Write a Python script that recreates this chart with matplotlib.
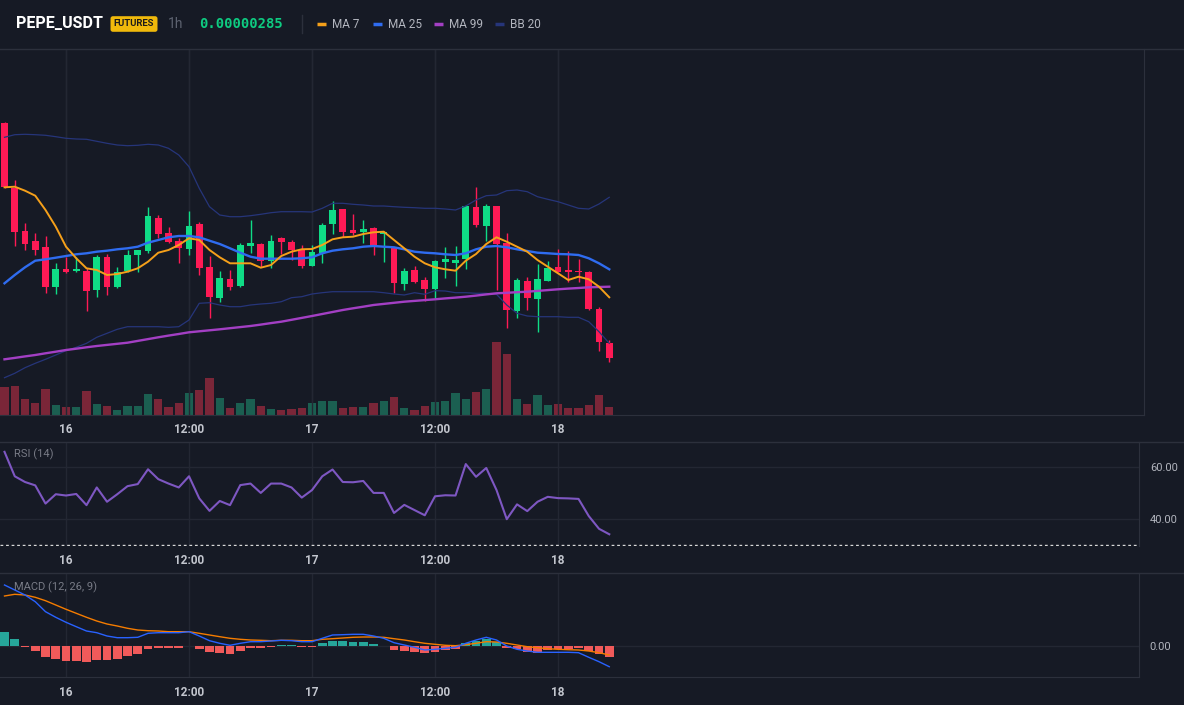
import numpy as np
import pandas as pd
import matplotlib
matplotlib.use("Agg")
import matplotlib.pyplot as plt
from matplotlib.lines import Line2D

plt.rcParams['font.family'] = ['Roboto', 'DejaVu Sans']

symbol = "PEPE_USDT"
market = "FUTURES"
interval = "1h"
last_price = "0.00000285"
times = pd.date_range("2024-05-15 18:00", periods=60, freq="h")

# prices in units of 1e-8 USDT
opens = [308.53, 301.97, 297.70, 296.70, 296.13, 292.13, 293.90, 293.70, 293.70, 291.80,
         295.13, 292.13, 293.70, 295.30, 295.70, 299.03, 297.53, 296.70, 295.87, 298.40,
         294.07, 291.03, 292.90, 292.23, 296.23, 296.40, 294.73, 296.97, 296.57, 295.80,
         294.23, 295.53, 298.40, 299.90, 297.80, 297.63, 298.03, 297.45, 295.97, 292.40,
         293.80, 292.80, 291.90, 294.60, 294.47, 294.87, 300.13, 298.23, 300.23, 296.47,
         289.73, 292.70, 290.90, 292.73, 294.13, 293.80, 293.73, 293.57, 289.90, 286.53]
highs = [308.65, 302.80, 298.47, 297.50, 297.20, 294.47, 295.13, 295.13, 293.97, 295.30,
         295.40, 294.13, 295.80, 295.85, 300.07, 299.30, 298.13, 296.97, 299.70, 298.57,
         295.20, 293.70, 293.80, 296.47, 298.80, 296.53, 297.30, 297.13, 296.80, 296.30,
         296.30, 298.53, 300.73, 299.90, 299.40, 298.80, 298.13, 297.63, 295.97, 293.97,
         294.20, 293.07, 294.80, 296.13, 296.20, 300.30, 302.07, 300.37, 300.23, 297.47,
         292.97, 293.13, 294.40, 294.70, 295.87, 295.70, 294.90, 293.70, 290.13, 286.80]
lows = [302.00, 296.20, 295.80, 295.30, 291.47, 291.37, 293.47, 293.63, 289.70, 291.13,
        291.30, 292.03, 293.60, 293.63, 295.47, 296.97, 296.53, 294.53, 295.30, 293.30,
        288.97, 290.63, 291.80, 292.13, 295.47, 294.13, 293.97, 295.40, 294.80, 293.97,
        294.23, 294.47, 297.40, 297.13, 297.30, 296.47, 295.30, 294.63, 291.47, 291.80,
        292.47, 290.73, 291.03, 293.03, 292.23, 293.87, 298.13, 296.73, 291.80, 287.97,
        288.97, 289.80, 287.63, 292.73, 293.57, 292.63, 292.63, 289.80, 285.73, 284.63]
closes = [302.10, 297.63, 296.40, 295.80, 292.13, 293.90, 293.60, 293.90, 291.73, 295.13,
          292.13, 293.57, 295.30, 295.80, 299.20, 297.40, 296.63, 295.97, 298.20, 293.97,
          291.13, 293.03, 292.13, 296.30, 296.53, 294.73, 296.70, 296.63, 295.80, 294.23,
          295.57, 298.30, 299.80, 297.57, 297.53, 297.90, 296.20, 297.53, 292.53, 293.70,
          292.63, 291.90, 294.70, 294.90, 294.80, 300.23, 298.30, 300.23, 296.40, 289.80,
          292.80, 291.03, 292.90, 294.03, 293.57, 293.63, 293.63, 289.87, 286.63, 284.97]
volumes = [283, 290, 160, 117, 260, 100, 83, 83, 240, 110, 90, 50, 90, 90, 210, 160, 83, 123,
           217, 250, 373, 167, 73, 117, 160, 90, 60, 50, 60, 67, 117, 140, 140, 67, 83, 83,
           117, 140, 183, 67, 50, 93, 127, 140, 223, 160, 233, 257, 733, 610, 160, 110, 200,
           100, 110, 73, 73, 100, 200, 83]

ma7 = [302.07, 302.13, 301.73, 301.23, 299.80, 298.13, 296.13, 294.97, 293.97, 293.80,
       293.30, 293.40, 293.63, 293.97, 294.63, 295.53, 295.80, 296.30, 296.97, 296.80,
       295.80, 295.07, 294.47, 294.47, 294.47, 294.03, 294.30, 295.20, 295.63, 295.87,
       295.90, 296.30, 296.87, 297.07, 297.13, 297.40, 297.57, 297.63, 296.80, 295.97,
       295.13, 294.47, 294.07, 293.87, 293.73, 294.73, 295.40, 296.40, 297.07, 296.63,
       296.13, 295.63, 294.80, 294.13, 293.47, 292.80, 293.13, 292.87, 292.13, 291.07]
ma25 = [292.47, 293.30, 294.07, 294.73, 294.87, 295.03, 295.20, 295.37, 295.47, 295.63,
        295.73, 295.87, 295.97, 296.13, 296.53, 296.80, 297.07, 297.20, 297.20, 297.07,
        296.73, 296.40, 295.97, 295.53, 295.13, 294.93, 294.93, 294.93, 294.93, 294.97,
        295.07, 295.47, 295.73, 295.87, 295.97, 296.13, 296.20, 296.13, 296.07, 295.87,
        295.63, 295.53, 295.47, 295.37, 295.30, 295.47, 295.87, 296.13, 296.20, 296.07,
        295.87, 295.70, 295.53, 295.47, 295.40, 295.37, 295.30, 294.97, 294.47, 293.87]
ma99 = [284.87, 285.01, 285.16, 285.30, 285.47, 285.63, 285.80, 285.93, 286.07, 286.20,
        286.31, 286.42, 286.53, 286.71, 286.89, 287.07, 287.24, 287.40, 287.57, 287.67,
        287.77, 287.87, 287.98, 288.09, 288.20, 288.34, 288.49, 288.63, 288.82, 289.01,
        289.20, 289.40, 289.60, 289.80, 289.97, 290.13, 290.30, 290.41, 290.52, 290.63,
        290.71, 290.79, 290.87, 290.96, 291.04, 291.13, 291.24, 291.36, 291.47, 291.52,
        291.58, 291.63, 291.71, 291.79, 291.87, 291.94, 292.00, 292.07, 292.10, 292.13]
bb_upper = [307.07, 307.33, 307.37, 307.33, 307.27, 307.13, 306.97, 306.90, 306.87, 306.67,
            306.47, 306.30, 306.23, 306.27, 306.37, 306.30, 305.97, 305.30, 304.13, 301.97,
            300.13, 299.30, 299.13, 299.13, 299.23, 299.37, 299.53, 299.63, 299.63, 299.63,
            299.60, 299.97, 300.47, 300.47, 300.37, 300.30, 300.20, 300.20, 300.13, 300.07,
            300.03, 299.97, 299.97, 299.90, 299.80, 300.20, 300.80, 301.23, 301.30, 301.73,
            301.80, 301.63, 301.13, 300.87, 300.63, 300.30, 299.97, 299.90, 300.40, 301.07]
bb_lower = [283.03, 283.47, 284.03, 284.47, 284.87, 285.30, 285.73, 286.07, 286.47, 287.07,
            287.47, 287.87, 288.13, 288.13, 288.13, 288.13, 288.07, 288.13, 288.80, 290.47,
            290.53, 290.30, 290.13, 290.13, 290.30, 290.40, 290.47, 290.63, 291.03, 291.13,
            291.40, 291.53, 291.63, 291.63, 291.63, 291.63, 291.63, 291.53, 291.40, 291.30,
            291.53, 291.37, 291.73, 291.70, 291.53, 291.53, 291.47, 291.47, 291.37, 290.30,
            289.47, 289.20, 289.13, 289.13, 289.13, 289.07, 289.07, 288.63, 287.63, 286.47]

rsi = [65.9, 56.5, 54.3, 53.0, 46.0, 49.6, 49.1, 49.7, 45.4, 52.2, 46.7, 49.6, 52.7, 53.5,
       59.2, 55.4, 53.7, 52.2, 56.5, 48.0, 43.2, 47.0, 45.4, 53.1, 53.7, 50.1, 53.7, 53.7,
       52.2, 48.3, 51.2, 56.5, 59.1, 54.3, 54.2, 54.7, 50.1, 50.1, 42.4, 45.5, 43.5, 41.5,
       48.8, 49.2, 49.1, 61.2, 56.3, 59.7, 51.2, 40.0, 45.7, 43.1, 46.7, 48.6, 48.1, 48.0,
       47.8, 41.2, 36.3, 34.2]

# MACD in units of 1e-10
macd_dif = [6.07, 5.57, 5.07, 4.40, 3.40, 2.84, 2.34, 1.90, 1.47, 1.30, 0.97, 0.80, 0.80,
            0.84, 1.24, 1.30, 1.30, 1.30, 1.40, 0.97, 0.50, 0.24, 0.04, 0.24, 0.40, 0.40,
            0.47, 0.54, 0.50, 0.40, 0.40, 0.74, 1.07, 1.10, 1.14, 1.14, 0.97, 0.74, 0.30,
            0.07, -0.16, -0.43, -0.36, -0.26, -0.16, 0.24, 0.57, 0.84, 0.57, -0.03, -0.36,
            -0.53, -0.66, -0.66, -0.66, -0.66, -0.70, -1.16, -1.60, -2.10]
macd_dea = [4.97, 5.14, 5.07, 4.84, 4.50, 4.07, 3.64, 3.24, 2.84, 2.47, 2.17, 1.97, 1.74,
            1.57, 1.50, 1.47, 1.40, 1.40, 1.40, 1.24, 1.07, 0.90, 0.74, 0.64, 0.57, 0.54,
            0.50, 0.54, 0.54, 0.50, 0.50, 0.64, 0.70, 0.77, 0.84, 0.87, 0.87, 0.84, 0.70,
            0.57, 0.40, 0.24, 0.14, 0.04, 0.00, 0.10, 0.24, 0.40, 0.37, 0.24, 0.07, -0.10,
            -0.20, -0.30, -0.36, -0.40, -0.43, -0.53, -0.70, -0.93]
macd_hist = [1.40, 0.67, -0.17, -0.50, -1.10, -1.37, -1.50, -1.50, -1.60, -1.43, -1.43,
             -1.33, -1.03, -0.83, -0.33, -0.27, -0.27, -0.27, -0.07, -0.33, -0.60, -0.70,
             -0.83, -0.50, -0.27, -0.27, -0.17, 0.07, 0.05, -0.17, -0.17, 0.30, 0.50, 0.50,
             0.37, 0.37, 0.17, -0.03, -0.43, -0.50, -0.60, -0.77, -0.60, -0.43, -0.37, 0.23,
             0.47, 0.63, 0.40, -0.20, -0.37, -0.60, -0.70, -0.43, -0.37, -0.37, -0.27, -0.50,
             -0.83, -1.17]

BG = '#161a25'
GRID = '#232733'
BORDER = '#2c303c'
TEXT = '#b2b5be'
GREEN = '#0fdc86'
RED = '#fe1a55'
VOL_GREEN = '#1b5f51'
VOL_RED = '#7a2638'

W, H = 1184, 705
fig = plt.figure(figsize=(W / 100, H / 100), dpi=100)
fig.patch.set_facecolor(BG)


def px_axes(x0, y0, x1, y1):
    return fig.add_axes([x0 / W, 1 - y1 / H, (x1 - x0) / W, (y1 - y0) / H])


def fx(x):
    return x / W


def fy(y):
    return 1 - y / H


idx = np.arange(len(times))
o = np.array(opens)
c = np.array(closes)
up = c >= o
cols = np.where(up, GREEN, RED)

tick_pos = [i for i, t in enumerate(times) if t.hour in (0, 12)]
tick_lab = [str(times[i].day) if times[i].hour == 0 else '12:00' for i in tick_pos]


def style(ax, right):
    ax.set_facecolor(BG)
    ax.set_xlim(-0.44, right)
    ax.set_xticks(tick_pos)
    ax.set_xticklabels(tick_lab, color='#c3c6ce', fontsize=8.5, fontweight='bold')
    ax.tick_params(axis='x', length=0, pad=6)
    ax.grid(axis='x', color=GRID, lw=1)
    for s in ('left', 'top'):
        ax.spines[s].set_visible(False)
    for s in ('right', 'bottom'):
        ax.spines[s].set_color(BORDER)
    ax.set_axisbelow(True)


# main price pane
ax = px_axes(0, 49, 1144, 415)
style(ax, 111.17)
ax.set_ylim(279.3, 315.9)
ax.set_yticks([])
ax.patch.set_visible(False)

vax = ax.twinx()
vax.set_zorder(ax.get_zorder() - 1)
vax.set_facecolor(BG)
vax.bar(idx, volumes, width=0.82, color=np.where(up, VOL_GREEN, VOL_RED))
vax.set_ylim(0, max(volumes) * 5)
vax.set_yticks([])
vax.set_xlim(-0.44, 111.17)
for s in vax.spines.values():
    s.set_visible(False)
vax.grid(False)
for x in tick_pos:
    vax.axvline(x, color=GRID, lw=1, zorder=0)

ax.vlines(idx, lows, highs, colors=cols, lw=1, zorder=3)
body_lo = np.minimum(o, c)
body_h = np.maximum(np.abs(c - o), 0.12)
ax.bar(idx, body_h, bottom=body_lo, width=0.68, color=cols, zorder=3)

ax.plot(idx, bb_upper, color='#26357a', lw=0.9, zorder=4)
ax.plot(idx, bb_lower, color='#26357a', lw=0.9, zorder=4)
ax.plot(idx, ma99, color='#a33fc4', lw=1.7, zorder=5)
ax.plot(idx, ma25, color='#2f6cf0', lw=1.7, zorder=5)
ax.plot(idx, ma7, color='#f5a01a', lw=1.4, zorder=6)

# RSI pane
rax = px_axes(0, 441.7, 1138.7, 545.7)
style(rax, 110.65)
rax.spines['bottom'].set_visible(False)
rax.set_ylim(29.8, 69.8)
rax.yaxis.tick_right()
rax.set_yticks([40, 60])
rax.set_yticklabels(['40.00', '60.00'], color=TEXT, fontsize=8)
rax.tick_params(axis='y', length=0, pad=8)
rax.grid(axis='y', color=GRID, lw=1)
rax.axhline(30, color='#d8d8d8', lw=1, ls=(0, (2, 2)))
rax.plot(idx, rsi, color='#7e57c2', lw=1.5)
rax.text(14 / 1138.7, 0.88, 'RSI (14)', transform=rax.transAxes, color='#787b86',
         fontsize=8, va='center')

# MACD pane
max_ = px_axes(0, 573.3, 1138.7, 677.3)
style(max_, 110.65)
max_.set_ylim(-3.16, 7.24)
max_.yaxis.tick_right()
max_.set_yticks([0])
max_.set_yticklabels(['0.00'], color=TEXT, fontsize=8)
max_.tick_params(axis='y', length=0, pad=8)
max_.grid(axis='y', color=GRID, lw=1)
hist = np.array(macd_hist)
max_.bar(idx, hist, width=0.86, color=np.where(hist >= 0, '#26a69a', '#f05a5a'))
max_.plot(idx, macd_dea, color='#f57c00', lw=1)
max_.plot(idx, macd_dif, color='#2962ff', lw=1)
max_.text(14 / 1138.7, 0.87, 'MACD (12, 26, 9)', transform=max_.transAxes,
          color='#787b86', fontsize=8, va='center')

# separators
for y in (48.5, 441.7, 573.3):
    fig.add_artist(Line2D([0, 1], [fy(y), fy(y)], color=BORDER, lw=1))

# header
fig.text(fx(16), fy(24), symbol, color='white', fontsize=11.5, fontweight='bold',
         va='center')
fig.text(fx(134), fy(24), market, color='#1b1b1b', fontsize=6.8, fontweight='bold',
         ha='center', va='center',
         bbox=dict(boxstyle='round,pad=0.35,rounding_size=0.25', fc='#f0b90b', ec='none'))
fig.text(fx(168), fy(24), interval, color='#5d6270', fontsize=10, va='center')
fig.text(fx(199), fy(24), last_price, color='#0ecb81', fontsize=10, fontweight='bold',
         family='DejaVu Sans Mono', va='center')
fig.add_artist(Line2D([fx(302), fx(302)], [fy(15), fy(33)], color=BORDER, lw=1))

legend = [('MA 7', '#f5a01a', 317), ('MA 25', '#2f6cf0', 373),
          ('MA 99', '#a33fc4', 434), ('BB 20', '#26357a', 495)]
for name, col, x0 in legend:
    fig.add_artist(Line2D([fx(x0), fx(x0 + 9)], [fy(24), fy(24)], color=col, lw=2.5,
                          solid_capstyle='butt'))
    fig.text(fx(x0 + 15), fy(24), name, color=TEXT, fontsize=8.5, va='center')

fig.savefig('out.png', dpi=100, facecolor=BG)
